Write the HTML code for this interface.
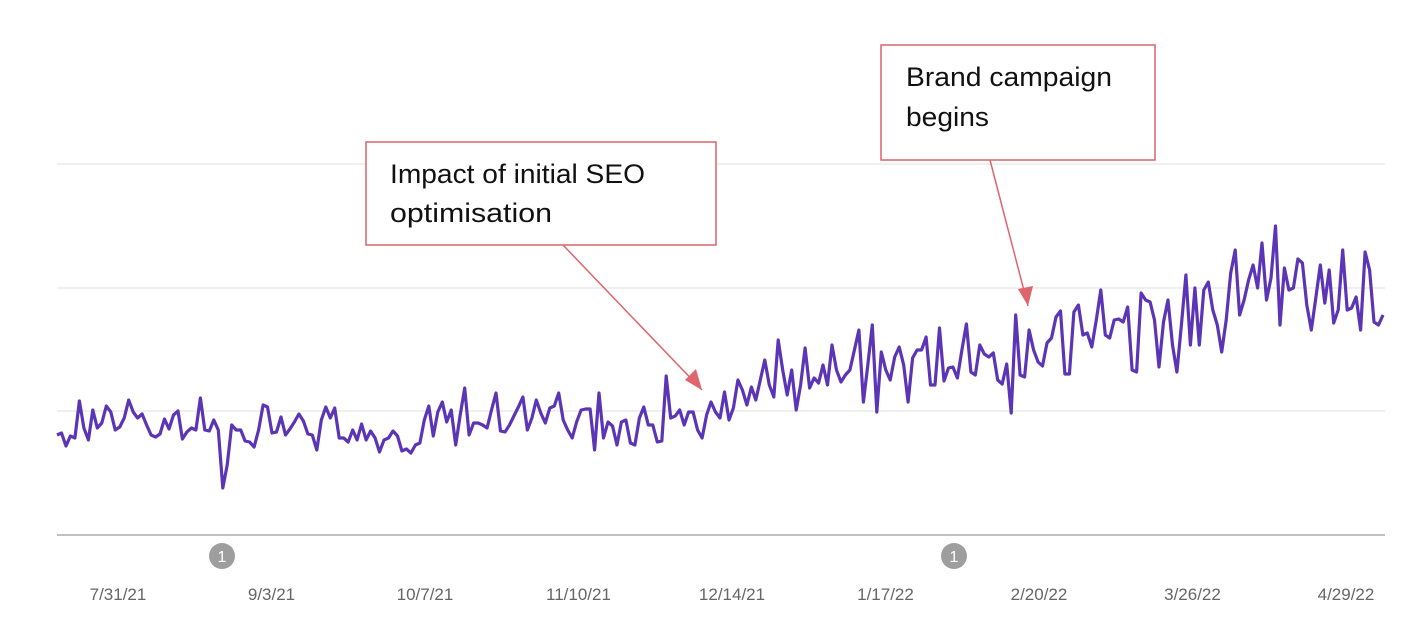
<!DOCTYPE html>
<html><head><meta charset="utf-8"><style>
body{margin:0;background:#fff;}
svg{display:block;font-family:"Liberation Sans",sans-serif;}
</style></head><body>
<svg id="chart" width="1409" height="637" viewBox="0 0 1409 637">
<g id="grid"></g>
<g id="xaxis"></g>
<path id="line" fill="none" stroke="#5b35b5" stroke-width="3.2" stroke-linejoin="round"/>
<g><circle cx="222" cy="556" r="13" fill="#9e9e9e"/><text x="222" y="562" font-size="16" fill="#fff" text-anchor="middle">1</text></g>
<g><circle cx="954" cy="556" r="13" fill="#9e9e9e"/><text x="954" y="562" font-size="16" fill="#fff" text-anchor="middle">1</text></g>
<defs><marker id="ah" viewBox="0 0 10 10" refX="9" refY="5" markerWidth="11" markerHeight="11" markerUnits="userSpaceOnUse" orient="auto"><path d="M0,0 L10,5 L0,10 z" fill="#e0646c"/></marker></defs>
<g>
<rect x="366" y="142" width="350" height="103" fill="#fff" stroke="#d9646b" stroke-width="1.5"/>
<text x="390" y="183" font-size="27" fill="#111" textLength="255" lengthAdjust="spacingAndGlyphs">Impact of initial SEO</text>
<text x="390" y="222" font-size="27" fill="#111" textLength="162" lengthAdjust="spacingAndGlyphs">optimisation</text>
<line x1="563" y1="245" x2="702" y2="390" stroke="#e0646c" stroke-width="1.5"/>
<path d="M702,390 L685,380 L696,369 Z" fill="#e0646c"/>
</g>
<g>
<rect x="881" y="45" width="274" height="115" fill="#fff" stroke="#d9646b" stroke-width="1.5"/>
<text x="906" y="86" font-size="27" fill="#111" textLength="206" lengthAdjust="spacingAndGlyphs">Brand campaign</text>
<text x="906" y="126" font-size="27" fill="#111" textLength="83" lengthAdjust="spacingAndGlyphs">begins</text>
<line x1="990" y1="160" x2="1028" y2="306" stroke="#e0646c" stroke-width="1.5"/>
<path d="M1028,306 L1018,289 L1033,286 Z" fill="#e0646c"/>
</g>
</svg>
<script>
const values=[100,102,89,99,97,134,107,95,125,107,112,129,123,105,108,117,135,123,117,121,110,100,98,101,116,106,120,124,96,103,107,105,137,105,104,115,105,47,70,110,105,105,94,93,88,105,130,128,102,103,118,100,106,113,121,114,101,100,85,115,128,117,127,97,97,93,105,95,111,95,104,97,83,95,97,104,99,84,86,82,
90,92,115,129,99,123,133,113,125,90,120,147,100,112,112,110,107,125,142,104,103,110,119,128,138,105,117,135,122,112,127,129,142,115,105,97,113,125,126,126,85,142,97,113,109,90,113,115,92,90,117,128,110,110,93,94,159,117,119,125,110,123,123,105,97,120,133,
123,117,143,115,127,155,145,130,148,135,155,175,150,138,195,165,140,165,125,150,187,147,157,152,170,150,190,165,153,160,165,185,205,133,170,210,123,183,165,155,178,188,170,133,177,185,185,198,150,150,207,154,167,168,157,185,211,163,160,190,181,178,182,155,151,171,122,220,160,158,205,185,
173,169,192,197,218,224,161,161,223,230,200,202,188,215,245,200,197,215,216,213,228,165,163,242,235,233,215,168,213,235,190,163,210,260,190,247,190,245,253,225,210,183,215,262,285,220,235,255,270,247,292,235,257,309,210,267,245,247,276,272,230,205,237,270,232,265,212,225,285,225,227,238,205,283,265,213,210,220];
const xTickLabels=["7/31/21","9/3/21","10/7/21","11/10/21","12/14/21","1/17/22","2/20/22","3/26/22","4/29/22"];
const gridValues=[124,247,371];
const X0=57,X1=1383,Y0=535,Y1=164,VMAX=371;
const sx=i=>X0+i*(X1-X0)/(values.length-1);
const sy=v=>Y0-(v/VMAX)*(Y0-Y1);
const ns="http://www.w3.org/2000/svg";
const g=document.getElementById('grid');
gridValues.forEach(v=>{const l=document.createElementNS(ns,'line');


l.setAttribute('x1',X0);l.setAttribute('x2',1385);l.setAttribute('y1',sy(v));l.setAttribute('y2',sy(v));l.setAttribute('stroke','#e6e6e6');l.setAttribute('stroke-width','1.3');g.appendChild(l);});
const base=document.createElementNS(ns,'line');


base.setAttribute('x1',X0);base.setAttribute('x2',1385);base.setAttribute('y1',Y0);base.setAttribute('y2',Y0);base.setAttribute('stroke','#9a9a9a');base.setAttribute('stroke-width','1.3');g.appendChild(base);
const xa=document.getElementById('xaxis');
xTickLabels.forEach((t,i)=>{const e=document.createElementNS(ns,'text');


e.setAttribute('x',118+i*(1346-118)/(xTickLabels.length-1));e.setAttribute('y',600);e.setAttribute('font-size','17');e.setAttribute('fill','#666');e.setAttribute('text-anchor','middle');e.textContent=t;xa.appendChild(e);});
document.getElementById('line').setAttribute('d',values.map((v,i)=>(i?'L':'M')+sx(i).toFixed(1)+','+sy(v).toFixed(1)).join(''));
</script>
</body></html>
